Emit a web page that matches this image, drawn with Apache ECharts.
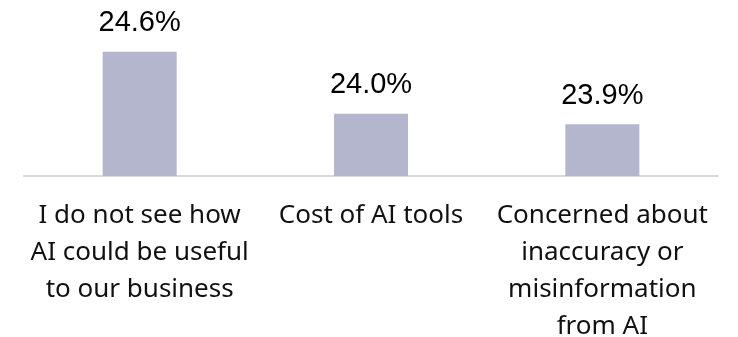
<!DOCTYPE html>
<html>
<head>
<meta charset="utf-8">
<script src="https://cdn.jsdelivr.net/npm/echarts@6/dist/echarts.min.js"></script>
<style>
  html, body { margin: 0; padding: 0; background: #fff; }
  #chart { width: 738px; height: 337px; }
</style>
</head>
<body>
<div id="chart"></div>
<script>
// Barriers to adopting AI tools (share of respondents, %)
const categories = [
  'I do not see how\nAI could be useful\nto our business',
  'Cost of AI tools',
  'Concerned about\ninaccuracy or\nmisinformation\nfrom AI'
];
const shares = [24.6, 24.0, 23.9];

const chart = echarts.init(document.getElementById('chart'), null, { renderer: 'canvas' });

chart.setOption({
  animation: false,
  backgroundColor: '#ffffff',
  grid: { left: 24, right: 20, top: 31, bottom: 161, outerBoundsMode: 'none', containLabel: false },
  xAxis: {
    type: 'category',
    data: categories,
    axisLine: { show: true, lineStyle: { color: '#d9d9d9', width: 2 } },
    axisTick: { show: false },
    axisLabel: {
      interval: 0,
      color: '#111',
      fontFamily: 'Noto Sans',
      fontSize: 26,
      lineHeight: 37,
      margin: 21
    }
  },
  yAxis: {
    type: 'value',
    min: 23.4,
    max: 24.8,
    show: false,
    splitLine: { show: false }
  },
  series: [{
    type: 'bar',
    data: shares,
    barWidth: 74,
    itemStyle: { color: '#b3b6cd' },
    label: {
      show: true,
      position: 'top',
      distance: 14,
      color: '#000',
      fontFamily: 'Liberation Sans',
      fontSize: 29,
      formatter: p => p.value.toFixed(1) + '%'
    }
  }]
});
</script>
</body>
</html>
